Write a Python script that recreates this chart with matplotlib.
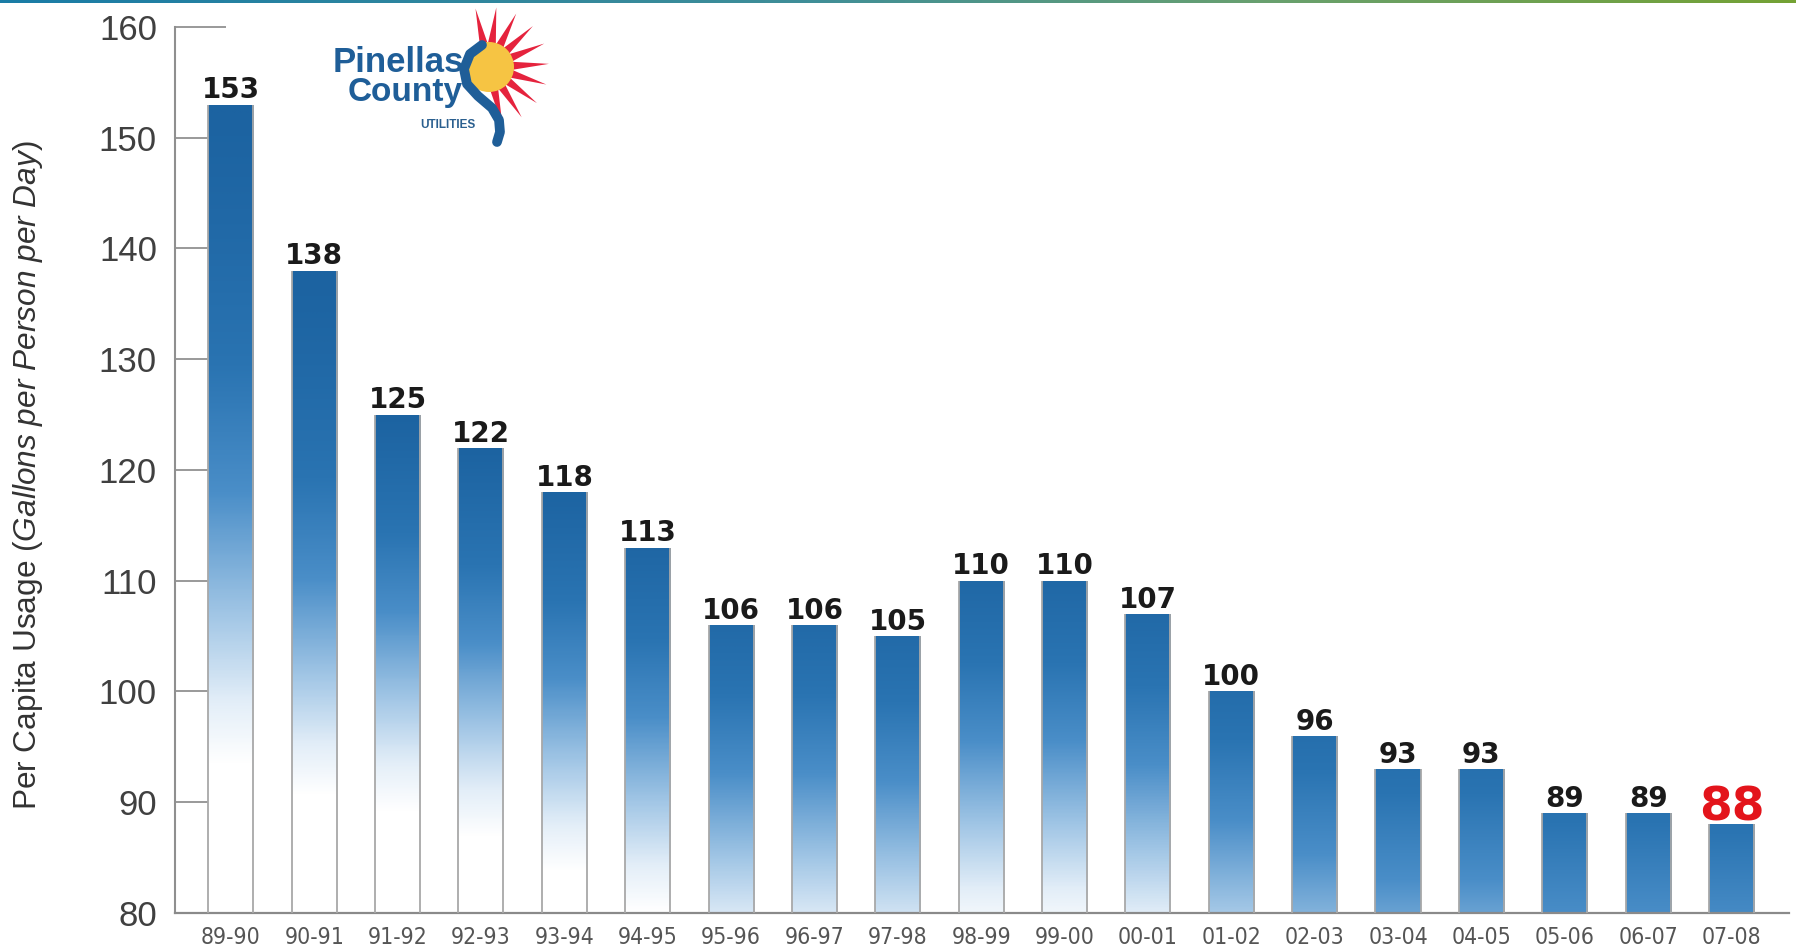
import numpy as np
import matplotlib
matplotlib.use("Agg")
import matplotlib.pyplot as plt
from matplotlib.colors import LinearSegmentedColormap
from matplotlib import font_manager
from matplotlib.patches import Circle, Polygon

# ---------------- data ----------------
seasons = ["89-90", "90-91", "91-92", "92-93", "93-94", "94-95", "95-96", "96-97",
           "97-98", "98-99", "99-00", "00-01", "01-02", "02-03", "03-04", "04-05",
           "05-06", "06-07", "07-08"]
usage = [153, 138, 125, 122, 118, 113, 106, 106, 105, 110, 110, 107, 100, 96, 93, 93, 89, 89, 88]
y_ticks = [80, 90, 100, 110, 120, 130, 140, 150, 160]
y_label = r"Per Capita Usage ($\mathit{Gallons\ per\ Person\ per\ Day}$)"
logo_line1 = "Pinellas"
logo_line2 = "County"
logo_line3 = "UTILITIES"

# ---------------- fonts ----------------
def has_font(name):
    try:
        font_manager.findfont(font_manager.FontProperties(family=name), fallback_to_default=False)
        return True
    except Exception:
        return False

base_font = "Liberation Sans" if has_font("Liberation Sans") else "DejaVu Sans"
plt.rcParams["font.family"] = [base_font, "DejaVu Sans"]
plt.rcParams["mathtext.fontset"] = "custom"
plt.rcParams["mathtext.rm"] = base_font
plt.rcParams["mathtext.it"] = base_font + ":italic"

if has_font("Liberation Sans Narrow"):
    xfont = dict(family="Liberation Sans Narrow", size=20.5)
else:
    xfont = dict(family="DejaVu Sans", stretch="condensed", size=16.5)

# ---------------- figure ----------------
W, H = 1796, 948
fig = plt.figure(figsize=(W / 100, H / 100), dpi=100)
fig.patch.set_facecolor("white")

ax_l, ax_r, ax_t, ax_b = 175, 1789, 27, 913
ax = fig.add_axes([ax_l / W, 1 - ax_b / H, (ax_r - ax_l) / W, (ax_b - ax_t) / H])

x = np.arange(len(seasons))
vals = np.array(usage, dtype=float)
w = 0.54
y0 = y_ticks[0]

bars = ax.bar(x, vals - y0, bottom=y0, width=w, color="none", edgecolor="none", zorder=2)

cmap = LinearSegmentedColormap.from_list(
    "bar", [(0, "#1c63a1"), (0.3, "#2a74b2"), (0.5, "#4a8ec8"),
            (0.72, "#a3c7e6"), (0.88, "#e3eef8"), (1, "#ffffff")])

for xi, v, b in zip(x, vals, bars):
    s = (v - y0) / 40.0
    a = 0.36 * max(0.0, 1 - s)
    bb = min(1.3, 0.3 + 0.85 * s)
    p = 1.3 if s > 1.2 else 1.0
    t = np.linspace(0, 1, 300)
    u = np.clip(a + (bb - a) * t ** p, 0, 1)
    img = cmap(u)[:, None, :]
    im = ax.imshow(img, extent=[xi - w / 2, xi + w / 2, y0, v], aspect="auto",
                   origin="upper", zorder=2, interpolation="bilinear")
    im.set_clip_path(b)

# bar side edges
ax.vlines(np.concatenate([x - w / 2, x + w / 2]), y0, np.concatenate([vals, vals]),
          colors="#a8a8a8", linewidth=1.3, zorder=3)

# value labels
for i, (xi, v) in enumerate(zip(x, vals)):
    if i == len(vals) - 1:
        ax.annotate(f"{int(v)}", (xi, v), xytext=(0, 3), textcoords="offset points",
                    ha="center", va="baseline", fontsize=34, fontweight="bold",
                    color="#e3141b", family="DejaVu Sans", zorder=5)
    else:
        ax.annotate(f"{int(v)}", (xi, v), xytext=(0, 4.5), textcoords="offset points",
                    ha="center", va="baseline", fontsize=20, fontweight="bold",
                    color="#1a1a1a", family="DejaVu Sans", zorder=5)

ax.set_xlim(-0.67, len(seasons) - 1 + 0.69)
ax.set_ylim(y_ticks[0], y_ticks[-1])
ax.set_yticks(y_ticks)
ax.set_yticklabels([str(t) for t in y_ticks])
ax.set_xticks(x)
ax.set_xticklabels(seasons)

for lab in ax.get_xticklabels():
    lab.set_fontproperties(font_manager.FontProperties(**xfont))
    lab.set_color("#555555")

ax.tick_params(axis="y", direction="in", length=37, width=1.4, color="#999999",
               labelsize=25, labelcolor="#404040", pad=13)
ax.tick_params(axis="x", length=0, pad=9)

for sp in ["top", "right"]:
    ax.spines[sp].set_visible(False)
ax.spines["left"].set_color("#8f8f8f")
ax.spines["left"].set_linewidth(1.5)
ax.spines["bottom"].set_color("#8a8a8a")
ax.spines["bottom"].set_linewidth(1.6)
ax.set_facecolor("none")

fig.text(28 / W, 0.499, y_label, rotation=90, ha="center", va="center",
         fontsize=22.8, color="#333333")

# ---------------- top band ----------------
band = fig.add_axes([0, 1 - 3.5 / H, 1, 3.5 / H])
band_cmap = LinearSegmentedColormap.from_list(
    "band", [(0, "#1a7ca6"), (0.45, "#3f8e98"), (0.7, "#68a070"), (1, "#74a234")])
band.imshow(np.linspace(0, 1, 512)[None, :], cmap=band_cmap, aspect="auto",
            extent=[0, 1, 0, 1])
band.axis("off")

# ---------------- logo ----------------
lx0, lx1, ly0, ly1 = 320, 570, 0, 150
lax = fig.add_axes([lx0 / W, 1 - ly1 / H, (lx1 - lx0) / W, (ly1 - ly0) / H])
lax.set_xlim(lx0, lx1)
lax.set_ylim(ly1, ly0)
lax.axis("off")

cx, cy = 489, 67
for ang in range(103, -80, -20):
    th = np.deg2rad(ang)
    hw = np.deg2rad(9.5)
    tip = (cx + 60 * np.cos(th), cy - 60 * np.sin(th))
    p1 = (cx + 24 * np.cos(th - hw), cy - 24 * np.sin(th - hw))
    p2 = (cx + 24 * np.cos(th + hw), cy - 24 * np.sin(th + hw))
    lax.add_patch(Polygon([p1, tip, p2], closed=True, color="#e5233d", lw=0))
lax.add_patch(Circle((cx, cy), 25, color="#f6c443", lw=0, zorder=3))

sw_x = [482, 470, 464, 467, 478, 492, 499, 500, 497]
sw_y = [45, 54, 69, 84, 96, 108, 120, 132, 142]
lax.plot(sw_x, sw_y, color="#1f5e98", lw=7, solid_capstyle="round", zorder=4)

lax.text(333, 72, logo_line1, fontsize=25, fontweight="bold", color="#1f5e98",
         ha="left", va="baseline", zorder=5)
lax.text(348, 101, logo_line2, fontsize=24, fontweight="bold", color="#1f5e98",
         ha="left", va="baseline", zorder=5)
lax.text(420, 128, logo_line3, fontsize=8.5, fontweight="bold", color="#2a5f8f",
         ha="left", va="baseline", zorder=5)

fig.savefig("out.png", dpi=100, facecolor="white")
